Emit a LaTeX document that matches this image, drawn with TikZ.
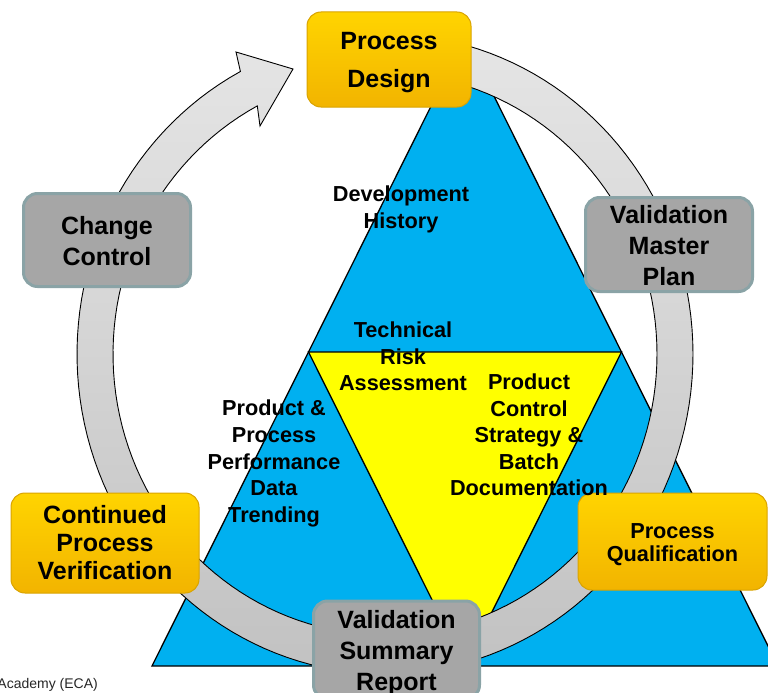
\documentclass[tikz,border=0pt]{standalone}
\usepackage{fontspec}
\setmainfont{Liberation Sans}
\usetikzlibrary{calc}
\definecolor{cyanfill}{HTML}{00B0F0}
\definecolor{yelfill}{HTML}{FFFF00}
\definecolor{goldtop}{HTML}{FFD400}
\definecolor{goldbot}{HTML}{F2B400}
\definecolor{goldline}{HTML}{D9A300}
\definecolor{grayfill}{HTML}{A6A6A6}
\definecolor{grayline}{HTML}{8AA3A6}
\tikzset{
  goldbox/.style={rounded corners=14pt, top color=goldtop, bottom color=goldbot, draw=goldline, line width=1pt, inner sep=0pt},
  graybox/.style={rounded corners=14pt, fill=grayfill, draw=grayline, line width=3pt, inner sep=0pt},
  boxtext/.style={align=center, inner sep=0pt},
  bigfont/.style={font=\fontsize{25}{31}\selectfont\bfseries},
  tritext/.style={font=\fontsize{21.7}{26.6}\selectfont\bfseries, align=center, inner sep=0pt},
  ringstyle/.style={draw=black, line width=0.9pt, top color=black!10, bottom color=black!24}
}
\begin{document}
\begin{tikzpicture}[x=1pt,y=1pt,yscale=-1]
\useasboundingbox (0,0) rectangle (768,693);
\clip (0,0) rectangle (768,693);
% big triangle
\coordinate (TA) at (465,38);
\coordinate (TL) at (152,666);
\coordinate (TR) at (778,666);
\draw[fill=cyanfill, line width=1.3pt, line join=miter] (TL) -- (TA) -- (TR) -- cycle;
\coordinate (ML) at ($(TL)!0.5!(TA)$);
\coordinate (MR) at ($(TR)!0.5!(TA)$);
\coordinate (MB) at ($(TL)!0.5!(TR)$);
\draw[fill=yelfill, line width=1.3pt] (ML) -- (MR) -- (MB) -- cycle;
% ring arrow
\coordinate (HO) at (236,52);
\coordinate (HT) at (293,69);
\coordinate (HI) at (260,126);
\draw[ringstyle] plot[domain=-95:242,samples=150] ({385+308*cos(\x)},{354+320*sin(\x)})
  -- (HO) -- (HT) -- (HI)
  -- plot[domain=242:-95,samples=150] ({385+272*cos(\x)},{354+281*sin(\x)}) -- cycle;
% boxes
\node[goldbox, minimum width=164pt, minimum height=95pt] (pd) at (389,59.5) {};
\node[boxtext, font=\fontsize{25}{38}\selectfont\bfseries] (pdt) at (389,62.5) {Process\\Design};
\node[graybox, minimum width=167pt, minimum height=93pt] (cc) at (107,240) {};
\node[boxtext, bigfont] (cct) at (107,241) {Change\\Control};
\node[graybox, minimum width=167pt, minimum height=94pt] (vmp) at (669,244.5) {};
\node[boxtext, bigfont] (vmpt) at (669,245.5) {Validation\\Master\\Plan};
\node[goldbox, minimum width=188pt, minimum height=100pt] (cpv) at (105,543) {};
\node[boxtext, font=\fontsize{25}{28}\selectfont\bfseries] (cpvt) at (105,542.5) {Continued\\Process\\Verification};
\node[goldbox, minimum width=189pt, minimum height=97pt] (pq) at (672.5,541.5) {};
\node[boxtext, font=\fontsize{21.7}{23}\selectfont\bfseries] (pqt) at (672.5,544.5) {Process\\Qualification};
\node[graybox, minimum width=166pt, minimum height=98pt] (vsr) at (396.5,650) {};
\node[boxtext, bigfont] (vsrt) at (396.5,653) {Validation\\Summary\\Report};
% triangle texts
\node[tritext] (dh) at (401,209.5) {Development\\History};
\node[tritext] (tra) at (403,356.5) {Technical\\Risk\\Assessment};
\node[tritext] (ppp) at (274,463.5) {Product \&\\Process\\Performance\\Data\\Trending};
\node[tritext] (pcs) at (529,435) {Product\\Control\\Strategy \&\\Batch\\Documentation};
% footer
\node[anchor=east, inner sep=0pt, font=\fontsize{14}{16}\selectfont, text=black!85] (foot) at (98,685) {Academy (ECA)};
\end{tikzpicture}
\end{document}
